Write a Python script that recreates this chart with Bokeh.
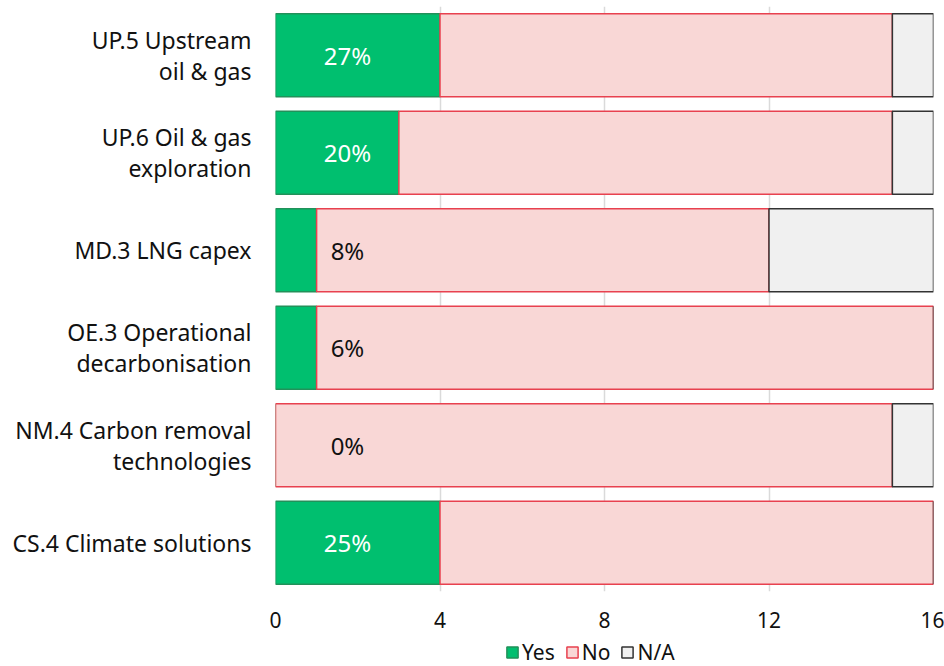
from bokeh.plotting import figure
from bokeh.layouts import column
from bokeh.models import FactorRange, Range1d, Legend, LegendItem, ColumnDataSource, FixedTicker
from bokeh.core.properties import value
from bokeh.embed import file_html
from bokeh.resources import INLINE

FONT = "Noto Sans"

categories = [
    "UP.5 Upstream\noil & gas",
    "UP.6 Oil & gas\nexploration",
    "MD.3 LNG capex",
    "OE.3 Operational\ndecarbonisation",
    "NM.4 Carbon removal\ntechnologies",
    "CS.4 Climate solutions",
]
yes = [4, 3, 1, 1, 0, 4]
no = [11, 12, 11, 15, 15, 12]
na = [1, 1, 4, 0, 1, 0]
x_ticks = [0, 4, 8, 12, 16]
series_names = ["Yes", "No", "N/A"]

# share of "Yes" among answered companies (N/A excluded)
pct = [round(100 * y / (y + n)) for y, n in zip(yes, no)]
pct_text = [f"{v}%" for v in pct]
pct_color = ["white" if y >= 3 else "#111111" for y in yes]

left_na = [y + n for y, n in zip(yes, no)]
right_na = [y + n + a for y, n, a in zip(yes, no, na)]

src = ColumnDataSource(dict(
    cat=categories, yes=yes, zero=[0] * len(yes),
    left_no=yes, right_no=left_na,
    left_na=left_na, right_na=right_na,
    pct_text=pct_text, pct_color=pct_color,
    pct_x=[1.75] * len(yes),
))

STYLES = [
    dict(fill_color="#00BF6F", line_color="#22915A"),
    dict(fill_color="#F9D7D6", line_color="#E8414F"),
    dict(fill_color="#F0F0F0", line_color="#333333"),
]
SPANS = [("zero", "yes"), ("left_no", "right_no"), ("left_na", "right_na")]
BAR_H = 0.85


def stacked_bars(fig, visible=True):
    rs = []
    for (l, r), st in zip(SPANS, STYLES):
        rs.append(fig.hbar(y="cat", left=l, right=r, height=BAR_H, source=src,
                           line_width=1.5, visible=visible, **st))
    return rs


p = figure(
    width=944, height=638,
    y_range=FactorRange(*reversed(categories)),
    x_range=Range1d(0, 16),
    output_backend="svg", toolbar_location=None,
    min_border_left=275, min_border_right=11, min_border_top=6, min_border_bottom=47,
)
p.outline_line_color = None
stacked_bars(p)

p.text(x="pct_x", y="cat", text="pct_text", source=src, text_color="pct_color",
       text_align="center", text_baseline="middle", text_font=value(FONT),
       text_font_size="24px")

p.ygrid.grid_line_color = None
p.xgrid.grid_line_color = "#DADADA"
p.xgrid.grid_line_width = 1.5
p.xaxis.ticker = FixedTicker(ticks=x_ticks)

for ax in (p.xaxis, p.yaxis):
    ax.axis_line_color = None
    ax.major_tick_line_color = None
    ax.minor_tick_line_color = None
    ax.major_label_text_font = FONT
    ax.major_label_text_color = "#111111"

p.xaxis.major_label_text_font_size = "21px"
p.yaxis.major_label_text_font_size = "23px"
p.xaxis.major_label_standoff = 14
p.yaxis.major_label_standoff = 18
p.yaxis.major_label_text_line_height = 0.97

# legend strip underneath the chart
leg = figure(
    width=944, height=28,
    y_range=FactorRange(*reversed(categories)), x_range=Range1d(0, 16),
    output_backend="svg", toolbar_location=None,
    min_border=0,
)
leg.axis.visible = False
leg.grid.visible = False
leg.outline_line_color = None
leg_rs = stacked_bars(leg, visible=False)

legend = Legend(items=[LegendItem(label=n, renderers=[r]) for n, r in zip(series_names, leg_rs)],
                orientation="horizontal", location=(230, 0))
legend.label_text_font = FONT
legend.label_text_font_size = "21px"
legend.label_text_color = "#111111"
legend.glyph_width = 14
legend.glyph_height = 14
legend.label_standoff = 3
legend.spacing = 10
legend.padding = 0
legend.margin = 0
legend.border_line_color = None
legend.background_fill_alpha = 0
legend.inactive_fill_alpha = 0
leg.add_layout(legend, "center")

open("out.html", "w").write(file_html(column(p, leg), INLINE))
